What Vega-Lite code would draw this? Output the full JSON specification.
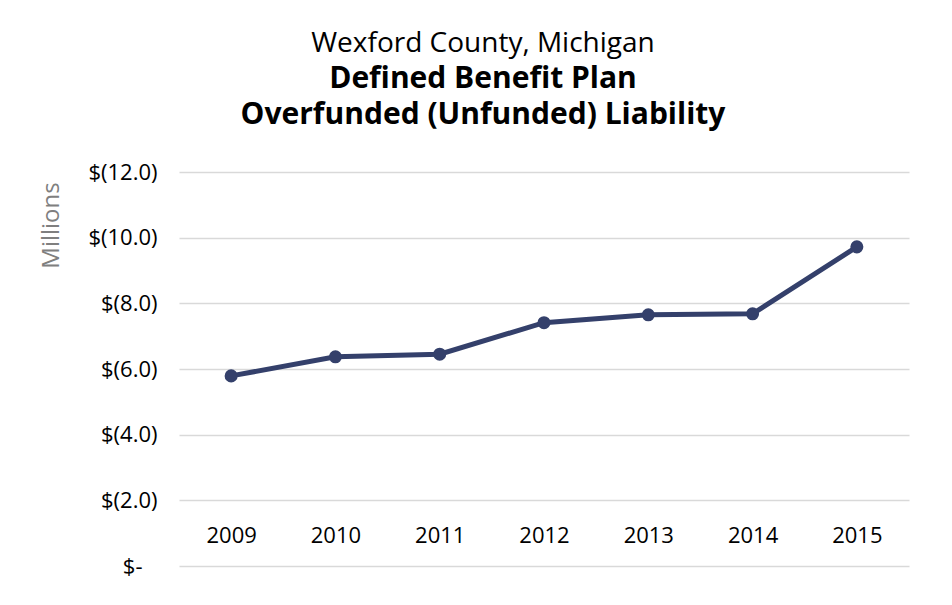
{
  "$schema": "https://vega.github.io/schema/vega-lite/v6.json",
  "width": 730,
  "height": 394,
  "autosize": {"type": "none"},
  "padding": {"left": 179, "top": 172, "right": 43, "bottom": 39},
  "background": "white",
  "config": {"view": {"stroke": null}, "font": "Open Sans"},
  "title": {
    "text": "Wexford County, Michigan",
    "subtitle": ["Defined Benefit Plan", "Overfunded (Unfunded) Liability"],
    "font": "Open Sans",
    "subtitleFont": "Open Sans",
    "fontSize": 28,
    "fontWeight": "normal",
    "color": "black",
    "subtitleFontSize": 30,
    "subtitleFontWeight": "bold",
    "subtitleColor": "black",
    "subtitleLineHeight": 36,
    "subtitlePadding": 6,
    "anchor": "middle",
    "dx": -61,
    "offset": 31
  },
  "data": {
    "values": [
      {"year": "2009", "value": -5.79},
      {"year": "2010", "value": -6.37},
      {"year": "2011", "value": -6.45},
      {"year": "2012", "value": -7.41},
      {"year": "2013", "value": -7.65},
      {"year": "2014", "value": -7.68},
      {"year": "2015", "value": -9.72}
    ]
  },
  "encoding": {
    "x": {
      "field": "year",
      "type": "ordinal",
      "scale": {"padding": 0.5},
      "axis": {
        "title": null,
        "labelAngle": 0,
        "domain": false,
        "ticks": false,
        "labelFontSize": 22,
        "labelColor": "black",
        "labelBaseline": "middle",
        "labelPadding": 0,
        "offset": -31
      }
    },
    "y": {
      "field": "value",
      "type": "quantitative",
      "scale": {"domain": [-12, 0], "reverse": true, "nice": false},
      "axis": {
        "values": [-12, -10, -8, -6, -4, -2, 0],
        "labelExpr": "datum.value == 0 ? '$-' : '$(' + format(abs(datum.value), '.1f') + ')'",
        "domain": false,
        "ticks": false,
        "gridColor": "#d9d9d9",
        "gridWidth": 1.5,
        "labelPadding": {"condition": {"test": "datum.value == 0", "value": 37}, "value": 22},
        "labelFontSize": 22,
        "labelColor": "black",
        "title": "Millions",
        "titleColor": "#7f7f7f",
        "titleFontSize": 24,
        "titleFontWeight": "normal",
        "titleAngle": -90,
        "titleX": -128,
        "titleY": 53,
        "titleAlign": "center",
        "titleBaseline": "middle"
      }
    }
  },
  "layer": [
    {"mark": {"type": "line", "color": "#34406b", "strokeWidth": 5}},
    {"mark": {"type": "point", "filled": true, "size": 170, "color": "#34406b", "opacity": 1}}
  ]
}
